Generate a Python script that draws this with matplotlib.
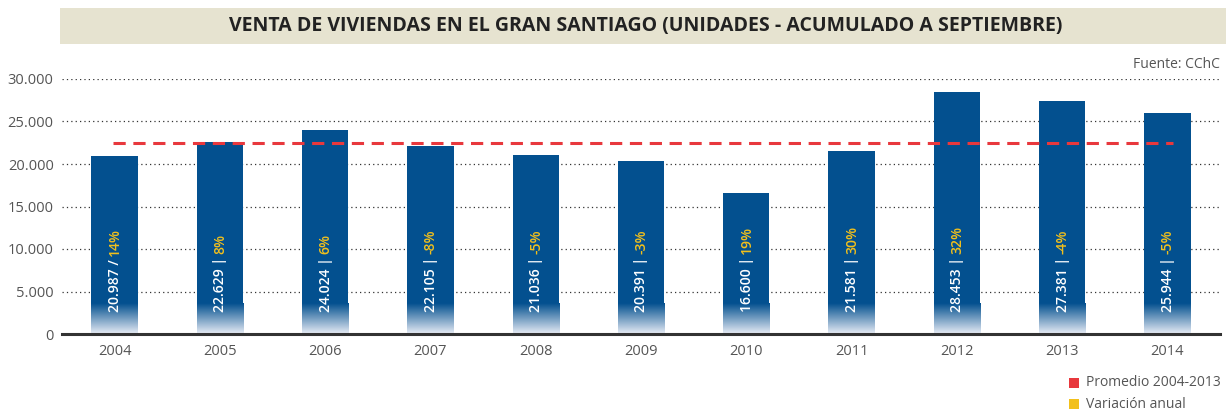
import numpy as np
import matplotlib.pyplot as plt
from matplotlib.colors import LinearSegmentedColormap
from matplotlib.patches import Rectangle
from matplotlib.font_manager import FontProperties

plt.rcParams["font.family"] = ["Open Sans", "DejaVu Sans"]

years = ["2004", "2005", "2006", "2007", "2008", "2009", "2010", "2011", "2012", "2013", "2014"]
ventas = [20987, 22629, 24024, 22105, 21036, 20391, 16600, 21581, 28453, 27381, 25944]
ventas_txt = ["20.987", "22.629", "24.024", "22.105", "21.036", "20.391", "16.600", "21.581", "28.453", "27.381", "25.944"]
seps = ["/", "|", "|", "|", "|", "|", "|", "|", "|", "|", "|"]
variacion = ["14%", "8%", "6%", "-8%", "-5%", "-3%", "19%", "30%", "32%", "-4%", "-5%"]
yticks = [0, 5000, 10000, 15000, 20000, 25000, 30000]
ytick_labels = ["0", "5.000", "10.000", "15.000", "20.000", "25.000", "30.000"]

promedio = np.mean(ventas[:10])

blue = "#03508f"
gold = "#f2c01c"
red = "#e8383d"
grey = "#555555"

fig = plt.figure(figsize=(12.26, 4.16), dpi=100)
ax = fig.add_axes([62 / 1226, 82 / 416, 1158 / 1226, 255 / 416])

x = np.arange(len(years))
w = 0.44
fade_top = 3600
cmap = LinearSegmentedColormap.from_list("fade", ["#e8ecf5", blue])
grad = np.linspace(0, 1, 100).reshape(-1, 1)

for xi, v in zip(x, ventas):
    ax.add_patch(Rectangle((xi - w / 2, fade_top), w, v - fade_top, color=blue, lw=0, zorder=2))
    ax.imshow(grad, cmap=cmap, aspect="auto", origin="lower",
              extent=(xi - w / 2, xi + w / 2, 0, fade_top), zorder=2)

ax.plot([x[0] - 0.02, x[-1] + 0.05], [promedio, promedio], color=red, ls=(0, (4, 2.5)),
        lw=2.2, zorder=3)

ax.set_xlim(-0.5, len(years) - 0.5)
ax.set_ylim(0, 30000)
ax.set_yticks(yticks)
ax.set_yticklabels(ytick_labels)
ax.set_xticks(x)
ax.set_xticklabels(years)
ax.tick_params(length=0, labelsize=10.5, colors=grey, pad=6)
ax.tick_params(axis="x", pad=7)
ax.grid(axis="y", ls=(0, (1, 2.5)), color="#333333", lw=0.9, zorder=0)
for s in ["top", "right", "left"]:
    ax.spines[s].set_visible(False)
ax.spines["bottom"].set_color("#333333")
ax.spines["bottom"].set_linewidth(2.2)
ax.set_axisbelow(True)

# vertical labels inside bars: white "value |" then the yellow change
fig.canvas.draw()
r = fig.canvas.get_renderer()
inv = ax.transData.inverted()
fp = FontProperties(family=["Open Sans", "DejaVu Sans"], size=10, weight="semibold")
for xi, t, sp, p in zip(x, ventas_txt, seps, variacion):
    px = ax.transData.transform((xi, 0))[0] + 4.5
    py = ax.transData.transform((0, 0))[1] + 22
    head = f"{t} {sp}"
    dx, dy = inv.transform((px, py))
    ax.text(dx, dy, head, rotation=90, rotation_mode="anchor", ha="left", va="baseline",
            color="white", fontproperties=fp, zorder=4)
    wpx = r.get_text_width_height_descent(head, fp, ismath=False)[0]
    dx, dy = inv.transform((px, py + wpx + 3))
    ax.text(dx, dy, p, rotation=90, rotation_mode="anchor", ha="left", va="baseline",
            color=gold, fontproperties=fp, zorder=4)

fig.patches.append(Rectangle((60 / 1226, 1 - 44 / 416), 1166 / 1226, 36 / 416,
                             transform=fig.transFigure, color="#e6e3d0", lw=0))
fig.text(646 / 1226, 1 - 26 / 416, "VENTA DE VIVIENDAS EN EL GRAN SANTIAGO (UNIDADES - ACUMULADO A SEPTIEMBRE)",
         ha="center", va="center", fontsize=14, fontweight="bold", color="#222222")
fig.text(1220 / 1226, 1 - 64 / 416, "Fuente: CChC", ha="right", va="center", fontsize=10, color=grey)

for yy, lab, col in [(383, "Promedio 2004-2013", red), (404, "Variación anual", gold)]:
    fig.patches.append(Rectangle((1069 / 1226, 1 - (yy + 5) / 416), 10 / 1226, 10 / 416,
                                 transform=fig.transFigure, color=col, lw=0))
    fig.text(1086 / 1226, 1 - yy / 416, lab, ha="left", va="center", fontsize=10, color=grey)

fig.savefig("out.png", dpi=100)
